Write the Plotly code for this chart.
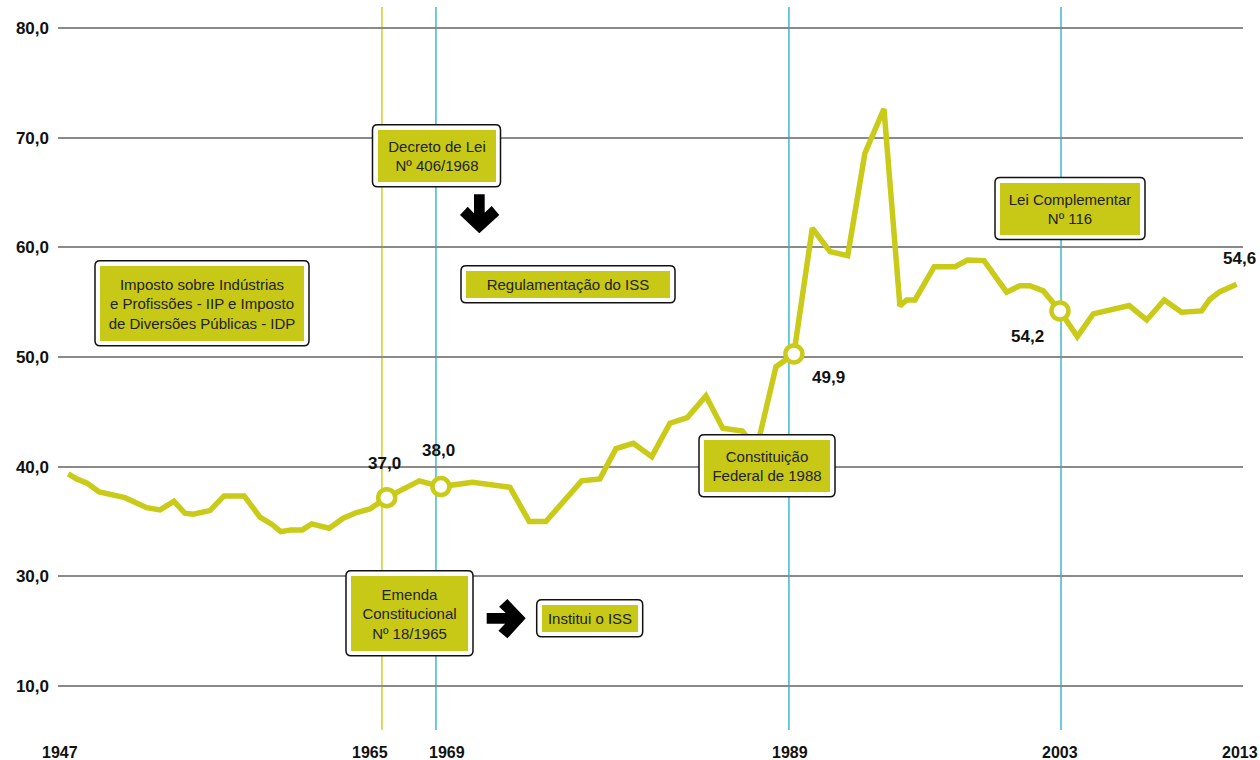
import plotly.graph_objects as go

# ---------------- data ----------------
years = [1947.00, 1947.47, 1948.07, 1948.75, 1950.20, 1951.43, 1952.18, 1952.97, 1953.59, 1954.06,
         1955.00, 1955.80, 1956.94, 1957.83, 1958.49, 1959.00, 1959.56, 1960.22, 1960.75, 1961.74,
         1962.53, 1963.29, 1964.04, 1964.99, 1966.83, 1967.43, 1968.05, 1969.84, 1971.95, 1973.04,
         1973.98, 1976.00, 1977.03, 1977.94, 1978.92, 1979.96, 1980.99, 1981.97, 1983.02, 1983.97,
         1985.08, 1985.62, 1986.07, 1986.98, 1987.48, 1987.99, 1989.03, 1990.03, 1991.03, 1992.00,
         1993.08, 1993.98, 1994.36, 1994.83, 1995.92, 1997.09, 1997.80, 1998.73, 2000.01, 2000.76,
         2001.32, 2002.08, 2003.02, 2004.00, 2004.90, 2006.93, 2007.92, 2008.91, 2009.89, 2011.02,
         2011.49, 2012.06, 2013.00]
values = [39.34, 38.89, 38.50, 37.70, 37.18, 36.27, 36.06, 36.85, 35.76, 35.67,
          36.00, 37.34, 37.34, 35.40, 34.76, 34.08, 34.24, 34.24, 34.79, 34.39,
          35.31, 35.82, 36.15, 37.18, 38.71, 38.50, 38.19, 38.59, 38.13, 35.00,
          35.00, 38.71, 38.89, 41.65, 42.14, 40.92, 43.97, 44.48, 46.45, 43.51,
          43.26, 42.17, 42.90, 49.12, 49.74, 50.28, 61.74, 59.61, 59.24, 68.58,
          72.62, 54.66, 55.21, 55.21, 58.24, 58.24, 58.85, 58.79, 55.91, 56.51,
          56.51, 56.03, 54.20, 51.86, 53.93, 54.69, 53.38, 55.21, 54.08, 54.20,
          55.27, 55.96, 56.64]

highlight_x = [1964.99, 1968.05, 1987.99, 2003.02]
highlight_y = [37.18, 38.19, 50.28, 54.20]
value_labels = ["37,0", "38,0", "49,9", "54,2", "54,6"]
value_label_x = [1964.99, 1968.05, 1987.99, 2003.02, 2013.00]
value_label_y = [37.18, 38.19, 50.28, 54.20, 56.64]

event_line_x = [1964.72, 1967.77, 1987.71, 2003.08]
event_line_kind = ["yellow", "cyan", "cyan", "cyan"]

x_tick_labels = ["1947", "1965", "1969", "1989", "2003", "2013"]
x_tick_pos = [1946.53, 1964.04, 1968.39, 1987.77, 2003.02, 2013.20]

y_tick_vals = [20, 30, 40, 50, 60, 70, 80]
y_tick_text = ["10,0", "30,0", "40,0", "50,0", "60,0", "70,0", "80,0"]

box_texts = [
    "Imposto sobre Indústrias<br>e Profissões - IIP e Imposto<br>de Diversões Públicas - IDP",
    "Decreto de Lei<br>Nº 406/1968",
    "Regulamentação do ISS",
    "Emenda<br>Constitucional<br>Nº 18/1965",
    "Institui o ISS",
    "Constituição<br>Federal de 1988",
    "Lei Complementar<br>Nº 116",
]

# ---------------- layout geometry (pixels) ----------------
W, H = 1260, 760
ML, MR, MT, MB = 58, 17, 7, 30
PW, PH = W - ML - MR, H - MT - MB
X_RANGE = [1946.42, 2013.36]
Y_RANGE = [16.0, 81.91]

def px(xp):
    return (xp - ML) / PW

def py(yp):
    return (H - MB - yp) / PH

def xpaper(year):
    return (year - X_RANGE[0]) / (X_RANGE[1] - X_RANGE[0])

# box centers / inner sizes in pixels
box_geom = [
    (202, 303.3, 204, 75),
    (436.5, 155.8, 118, 52),
    (568, 284.3, 204, 27),
    (409.5, 613.3, 117, 75),
    (589.7, 618.3, 96, 27),
    (767, 465.8, 126, 52),
    (1070, 208.5, 140, 52),
]

LINE_COLOR = "#C9CB18"
FILL_COLOR = "#C8C816"
CYAN = "#3BB9D3"
YELLOW = "#CFCF2A"
FONT = "Liberation Sans, Arial, sans-serif"

fig = go.Figure()
fig.add_trace(go.Scatter(x=years, y=values, mode="lines",
                         line=dict(color=LINE_COLOR, width=5.5),
                         hoverinfo="skip", showlegend=False))
fig.add_trace(go.Scatter(x=highlight_x, y=highlight_y, mode="markers",
                         marker=dict(size=17, color="white",
                                     line=dict(color=LINE_COLOR, width=4.5)),
                         hoverinfo="skip", showlegend=False))

shapes = []
for xv, kind in zip(event_line_x, event_line_kind):
    shapes.append(dict(type="line", xref="x", yref="paper", x0=xv, x1=xv, y0=0, y1=1,
                       line=dict(color=YELLOW if kind == "yellow" else CYAN, width=1.5),
                       layer="between"))

def rounded_rect(x0, y0, x1, y1, r):
    def P(a, b):
        return f"{px(a):.5f},{py(b):.5f}"
    return (f"M {P(x0 + r, y0)} L {P(x1 - r, y0)} Q {P(x1, y0)} {P(x1, y0 + r)} "
            f"L {P(x1, y1 - r)} Q {P(x1, y1)} {P(x1 - r, y1)} "
            f"L {P(x0 + r, y1)} Q {P(x0, y1)} {P(x0, y1 - r)} "
            f"L {P(x0, y0 + r)} Q {P(x0, y0)} {P(x0 + r, y0)} Z")

annotations = []
PAD = 5
for text, (cx, cy, w, h) in zip(box_texts, box_geom):
    shapes.append(dict(type="path", xref="paper", yref="paper",
                       path=rounded_rect(cx - w / 2 - PAD, cy - h / 2 - PAD,
                                         cx + w / 2 + PAD, cy + h / 2 + PAD, 5),
                       fillcolor="white", line=dict(color="#111", width=1.5), layer="above"))
    annotations.append(dict(xref="paper", yref="paper", x=px(cx), y=py(cy),
                            xanchor="center", yanchor="middle", text=text, showarrow=False,
                            width=w, height=h, bgcolor=FILL_COLOR, borderpad=0, borderwidth=0,
                            align="center", valign="middle",
                            font=dict(family=FONT, size=15, color="#222")))

# arrows (template relative to tip: (perpendicular, along))
arrow_tpl = [(-5.3, -39), (5.4, -39), (5.4, -20.6), (12.4, -27.3), (20, -18.3), (0, 0),
             (-19.3, -18.3), (-11.6, -26.6), (-5.3, -20)]

def arrow_path(tipx, tipy, direction):
    pts = []
    for perp, along in arrow_tpl:
        if direction == "down":
            xp, yp = tipx + perp, tipy + along
        else:
            xp, yp = tipx + along, tipy + perp
        pts.append(f"{px(xp):.5f},{py(yp):.5f}")
    return "M " + " L ".join(pts) + " Z"

shapes.append(dict(type="path", xref="paper", yref="paper", path=arrow_path(479.3, 233.3, "down"),
                   fillcolor="black", line=dict(width=0), layer="above"))
shapes.append(dict(type="path", xref="paper", yref="paper", path=arrow_path(525.7, 618.3, "right"),
                   fillcolor="black", line=dict(width=0), layer="above"))

# value labels
label_shift = [(-2, 34), (-2.5, 36), (35, -23.5), (-32, -25.7), (3.3, 26)]
for t, xv, yv, (dx, dy) in zip(value_labels, value_label_x, value_label_y, label_shift):
    annotations.append(dict(x=xv, y=yv, xref="x", yref="y", text=t, showarrow=False,
                            xshift=dx, yshift=dy, xanchor="center", yanchor="middle",
                            font=dict(family=FONT, size=17, color="#111", weight="bold")))

# x tick labels
for t, xv in zip(x_tick_labels, x_tick_pos):
    annotations.append(dict(x=xpaper(xv), y=py(752.5), xref="paper", yref="paper", text=t,
                            showarrow=False, xanchor="center", yanchor="middle",
                            font=dict(family=FONT, size=16, color="#111", weight="bold")))

fig.update_layout(
    width=W, height=H,
    margin=dict(l=ML, r=MR, t=MT, b=MB, pad=0),
    paper_bgcolor="white", plot_bgcolor="white",
    shapes=shapes, annotations=annotations,
    showlegend=False,
    xaxis=dict(range=X_RANGE, showgrid=False, zeroline=False, showticklabels=False,
               showline=False, ticks=""),
    yaxis=dict(range=Y_RANGE, tickvals=y_tick_vals, ticktext=y_tick_text,
               showgrid=True, gridcolor="#8a8a8a", gridwidth=2, zeroline=False,
               showline=False, ticks="", ticklabelstandoff=8,
               tickfont=dict(family=FONT, size=17, color="#111", weight="bold")),
)

fig.write_html("out.html")
